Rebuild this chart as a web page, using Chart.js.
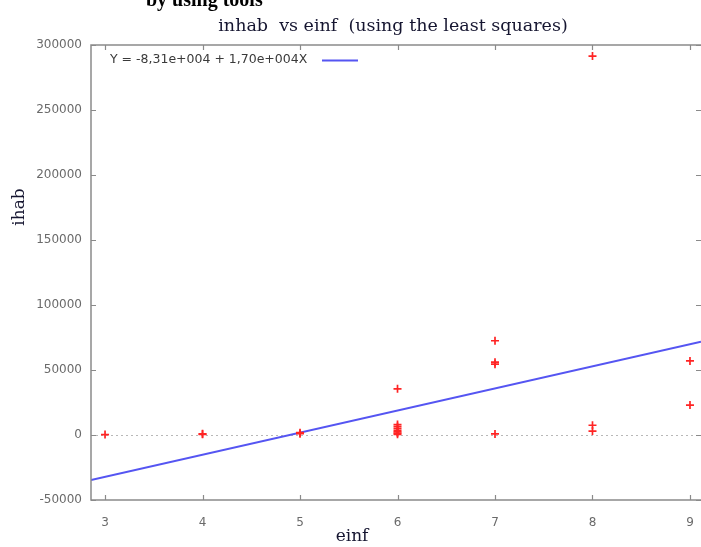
<!DOCTYPE html>
<html>
<head>
<meta charset="utf-8">
<script src="https://cdn.jsdelivr.net/npm/chart.js@4.4.0/dist/chart.umd.min.js"></script>
<style>
  html, body { margin: 0; padding: 0; background: #fff; }
  #wrap { width: 701px; height: 547px; }
</style>
</head>
<body>
<div id="wrap"><canvas id="c" width="701" height="547"></canvas></div>
<script>
// values
const einf  = [3, 4, 4, 5, 5, 6, 6, 6, 6, 6, 6, 6, 6, 7, 7, 7, 7, 8, 8, 8, 9, 9];
const inhab = [300, 500, 900, 1000, 1800, 35500, 8000, 6500, 5000, 3500, 2500, 1500, 500,
               72500, 56000, 54500, 800, 291500, 7500, 3000, 57000, 23000];
// least squares line, ends read at the plot edges
const fitX = [2.856, 9.113];
const fitY = [-34550, 71820];
const xTicks = [3, 4, 5, 6, 7, 8, 9];
const fitLabel = "Y = -8,31e+004 + 1,70e+004X";

const tickFont = { family: "DejaVu Sans", size: 12 };
const axisGray = "#8a8a8a";

// gnuplot style frame with inward ticks on all four sides, plus texts
const frame = {
  id: "frame",
  afterDatasetsDraw(chart) {
    const { ctx, chartArea: a, scales } = chart;
    ctx.save();
    ctx.strokeStyle = axisGray;
    ctx.lineWidth = 1.5;
    ctx.beginPath();
    ctx.moveTo(a.right, a.top); ctx.lineTo(a.left, a.top);
    ctx.lineTo(a.left, a.bottom); ctx.lineTo(a.right, a.bottom);
    ctx.stroke();
    ctx.lineWidth = 1.2;
    ctx.beginPath();
    scales.x.ticks.forEach(t => {
      const px = Math.round(scales.x.getPixelForValue(t.value)) + 0.5;
      ctx.moveTo(px, a.bottom); ctx.lineTo(px, a.bottom - 5);
      ctx.moveTo(px, a.top); ctx.lineTo(px, a.top + 5);
    });
    scales.y.ticks.forEach(t => {
      const py = Math.round(scales.y.getPixelForValue(t.value)) + 0.5;
      ctx.moveTo(a.left, py); ctx.lineTo(a.left + 5, py);
      ctx.moveTo(a.right, py); ctx.lineTo(a.right - 5, py);
    });
    ctx.stroke();

    // key inside the plot
    const fit = chart.data.datasets[1];
    ctx.fillStyle = "#3a3a3a";
    ctx.font = '12.5px "DejaVu Sans"';
    ctx.textBaseline = "middle";
    ctx.textAlign = "left";
    ctx.fillText(fit.label, 110, 60);
    ctx.strokeStyle = fit.borderColor;
    ctx.lineWidth = 2;
    ctx.beginPath(); ctx.moveTo(322, 60.5); ctx.lineTo(358, 60.5); ctx.stroke();

    // titles
    ctx.fillStyle = "#151530";
    ctx.font = '17.5px "DejaVu Serif"';
    ctx.textAlign = "center";
    ctx.fillText("inhab  vs einf  (using the least squares)", 393, 26);
    ctx.font = '17px "DejaVu Serif"';
    ctx.fillText("einf", 352, 537);
    ctx.save();
    ctx.translate(20, 207);
    ctx.rotate(-Math.PI / 2);
    ctx.fillText("ihab", 0, 0);
    ctx.restore();

    // heading of the page cut off at the top
    ctx.fillStyle = "#000";
    ctx.font = 'bold 20px "Liberation Serif"';
    ctx.textAlign = "left";
    ctx.textBaseline = "alphabetic";
    ctx.fillText("by using tools", 146, 6);
    ctx.restore();
  }
};

new Chart(document.getElementById("c"), {
  type: "scatter",
  data: {
    datasets: [
      {
        label: "inhab",
        data: einf.map((x, i) => ({ x: x, y: inhab[i] })),
        pointStyle: "cross",
        pointRadius: 4,
        borderColor: "#ff2424",
        backgroundColor: "#ff2424",
        borderWidth: 1.7,
      },
      {
        label: fitLabel,
        type: "line",
        data: fitX.map((x, i) => ({ x: x, y: fitY[i] })),
        borderColor: "#5555f2",
        borderWidth: 2,
        pointRadius: 0,
        fill: false,
      },
    ],
  },
  options: {
    responsive: false,
    animation: false,
    devicePixelRatio: 1,
    layout: { autoPadding: false, padding: { top: 45, right: 0, bottom: 0, left: 0 } },
    plugins: {
      legend: { display: false },
      title: { display: false },
      tooltip: { enabled: false },
    },
    scales: {
      x: {
        type: "linear",
        min: fitX[0],
        max: fitX[1],
        afterBuildTicks: s => { s.ticks = xTicks.map(v => ({ value: v })); },
        afterFit: s => { s.height = 47; s.paddingRight = 0; s.paddingLeft = 0; },
        grid: { display: false },
        border: { display: false },
        ticks: { font: tickFont, color: "#6a6a6a", padding: 8, maxRotation: 0 },
      },
      y: {
        min: -50000,
        max: 300000,
        afterFit: s => { s.width = 91; s.paddingTop = 0; s.paddingBottom = 0; },
        grid: {
          drawTicks: false,
          lineWidth: 1,
          color: c => (c.tick && c.tick.value === 0 ? "#b8b8b8" : "rgba(0,0,0,0)"),
        },
        border: { display: false, dash: [2, 3] },
        ticks: {
          stepSize: 50000,
          font: tickFont,
          color: "#6a6a6a",
          padding: 9,
          callback: v => String(v),
        },
      },
    },
  },
  plugins: [frame],
});
</script>
</body>
</html>
